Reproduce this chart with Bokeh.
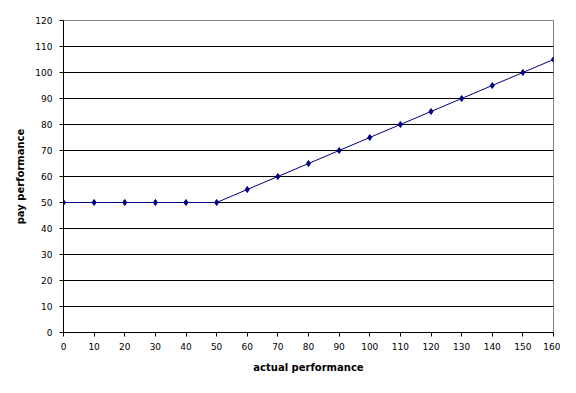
from bokeh.plotting import figure
from bokeh.models import FixedTicker, Range1d
from bokeh.embed import file_html
from bokeh.resources import INLINE

actual = [0, 10, 20, 30, 40, 50, 60, 70, 80, 90, 100, 110, 120, 130, 140, 150, 160]
pay = [50, 50, 50, 50, 50, 50, 55, 60, 65, 70, 75, 80, 85, 90, 95, 100, 105]
x_ticks = list(range(0, 161, 10))
y_ticks = list(range(0, 121, 10))

p = figure(width=560, height=377, output_backend="svg", toolbar_location=None,
           x_range=Range1d(0, 160), y_range=Range1d(0, 120),
           min_border_left=63, min_border_right=7, min_border_top=20, min_border_bottom=45)
p.background_fill_color = "white"
p.border_fill_color = "white"
p.outline_line_color = "#808080"
p.outline_line_width = 1

p.xaxis.ticker = FixedTicker(ticks=x_ticks)
p.yaxis.ticker = FixedTicker(ticks=y_ticks)
p.xgrid.visible = False
p.ygrid.ticker = FixedTicker(ticks=y_ticks[1:-1])
p.ygrid.grid_line_color = "black"
p.ygrid.grid_line_width = 1

for ax in (p.xaxis, p.yaxis):
    ax.axis_line_color = "black"
    ax.major_tick_line_color = "black"
    ax.major_tick_out = 4
    ax.major_tick_in = 0
    ax.minor_tick_line_color = None
    ax.major_label_text_font = "DejaVu Sans"
    ax.major_label_text_font_size = "9px"
    ax.major_label_text_color = "black"
    ax.axis_label_text_font = "DejaVu Sans"
    ax.axis_label_text_font_size = "10px"
    ax.axis_label_text_font_style = "bold"
    ax.axis_label_text_color = "black"

p.xaxis.axis_label = "actual performance"
p.yaxis.axis_label = "pay performance"
p.xaxis.major_label_standoff = 6
p.yaxis.major_label_standoff = 7
p.xaxis.axis_label_standoff = 9
p.yaxis.axis_label_standoff = 6

p.line(actual, pay, line_color="#000080", line_width=1)
p.scatter(actual, pay, marker="diamond", size=6, fill_color="#000080", line_color="#000080")

open("out.html", "w").write(file_html(p, INLINE))
